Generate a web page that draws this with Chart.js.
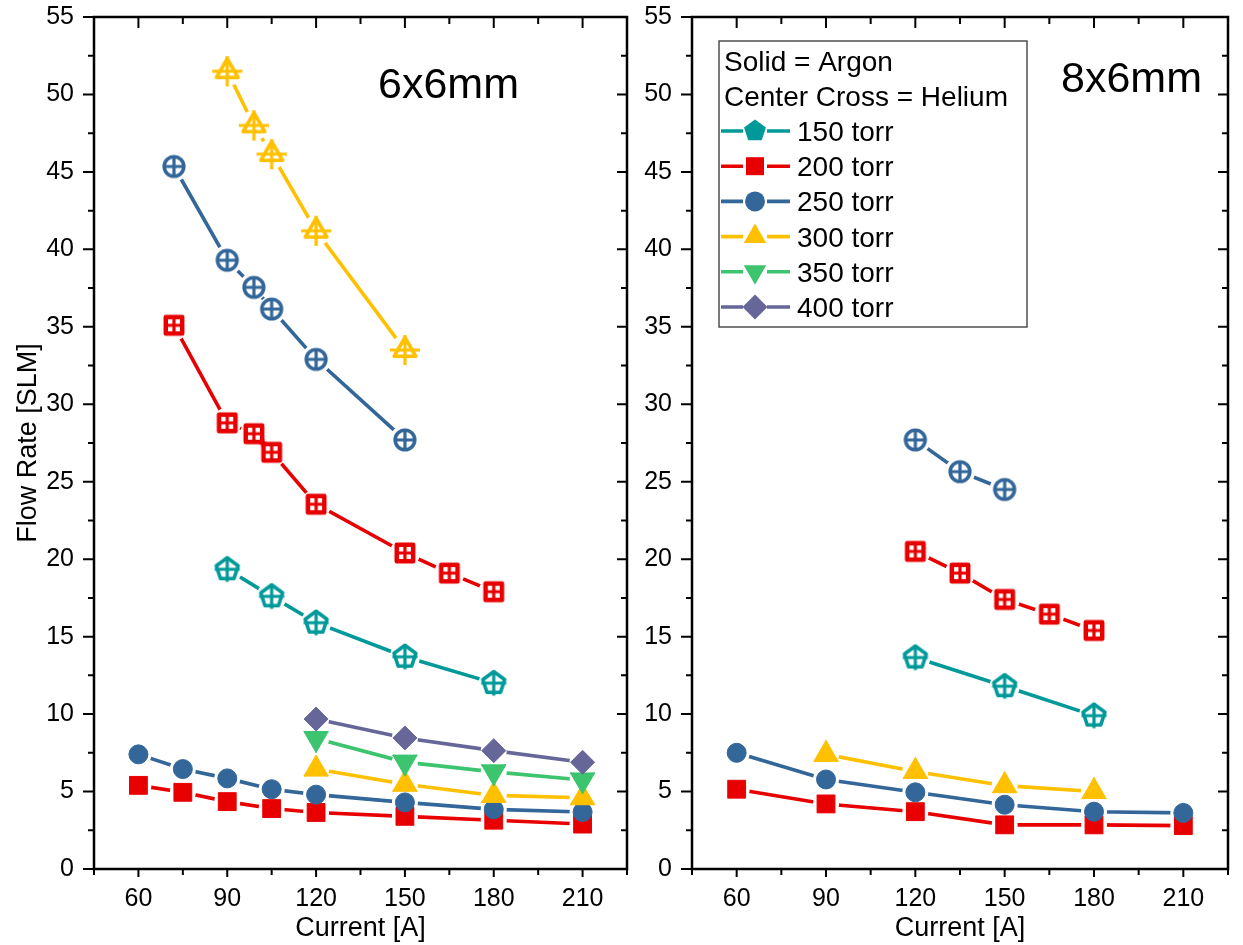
<!DOCTYPE html>
<html>
<head>
<meta charset="utf-8">
<title>Flow rate vs current</title>
<script src="https://cdn.jsdelivr.net/npm/chart.js@4.4.1/dist/chart.umd.min.js"></script>
<style>
  html, body { margin: 0; padding: 0; background: #fff; }
  #wrap { position: relative; width: 1243px; height: 945px; }
  .panel { position: absolute; top: 0; }
  #left { left: 0; }
  #right { left: 642px; }
</style>
</head>
<body>
<div id="wrap">
  <div class="panel" id="left"><canvas id="chart6" width="642" height="945"></canvas></div>
  <div class="panel" id="right"><canvas id="chart8" width="601" height="945"></canvas></div>
</div>
<script>
// ── Data ──────────────────────────────────────────────────────────────

const xTicks    = [60, 90, 120, 150, 180, 210];
const pressures = ['150 torr', '200 torr', '250 torr', '300 torr', '350 torr', '400 torr'];

// 6x6mm, argon (solid markers)
const cur6Ar      = [60, 75, 90, 105, 120, 150, 180, 210];
const ar6_200     = [5.4, 4.95, 4.35, 3.9, 3.65, 3.4, 3.15, 2.9];
const ar6_250     = [7.4, 6.45, 5.85, 5.15, 4.8, 4.3, 3.85, 3.68];
const cur6ArHigh  = [120, 150, 180, 210];
const ar6_300     = [6.45, 5.47, 4.75, 4.6];
const ar6_350     = [8.42, 6.9, 6.27, 5.75];
const ar6_400     = [9.68, 8.46, 7.64, 6.89];

// 6x6mm, helium (center cross markers)
const cur6He_150  = [90, 105, 120, 150, 180];
const he6_150     = [19.35, 17.6, 15.9, 13.7, 12.0];
const cur6He_200  = [72, 90, 99, 105, 120, 150, 165, 180];
const he6_200     = [35.1, 28.8, 28.1, 26.9, 23.55, 20.4, 19.1, 17.9];
const cur6He_250  = [72, 90, 99, 105, 120, 150];
const he6_250     = [45.35, 39.3, 37.55, 36.15, 32.9, 27.7];
const cur6He_300  = [90, 99, 105, 120, 150];
const he6_300     = [51.5, 48.0, 46.15, 41.2, 33.5];

// 8x6mm, argon
const cur8Ar      = [60, 90, 120, 150, 180, 210];
const ar8_200     = [5.15, 4.2, 3.7, 2.85, 2.85, 2.8];
const ar8_250     = [7.5, 5.78, 4.95, 4.15, 3.7, 3.62];
const cur8Ar_300  = [90, 120, 150, 180];
const ar8_300     = [7.4, 6.3, 5.38, 5.0];

// 8x6mm, helium
const cur8He_150  = [120, 150, 180];
const he8_150     = [13.65, 11.8, 9.9];
const cur8He_200  = [120, 135, 150, 165, 180];
const he8_200     = [20.5, 19.1, 17.4, 16.45, 15.4];
const cur8He_250  = [120, 135, 150];
const he8_250     = [27.7, 25.65, 24.5];

// ── Styles ────────────────────────────────────────────────────────────

const colors = ['#009999', '#e80000', '#336699', '#ffc000', '#3cc46f', '#666699'];
const shapes = ['pentagon', 'square', 'circle', 'triangle', 'triangleDown', 'diamond'];
const FONT = "'Liberation Sans', Arial, sans-serif";

Chart.defaults.font.family = FONT;
Chart.defaults.color = '#000';

function shapePath(g, shape, x, y, r) {
    g.beginPath();
    if (shape === 'circle') {
        g.arc(x, y, r, 0, Math.PI * 2);
    } else if (shape === 'square') {
        g.rect(x - r, y - r, 2 * r, 2 * r);
    } else if (shape === 'triangle' || shape === 'triangleDown') {
        const s = shape === 'triangle' ? 1 : -1;
        g.moveTo(x, y - s * r);
        g.lineTo(x + r * 0.866, y + s * r / 2);
        g.lineTo(x - r * 0.866, y + s * r / 2);
    } else if (shape === 'diamond') {
        g.moveTo(x, y - r); g.lineTo(x + r, y); g.lineTo(x, y + r); g.lineTo(x - r, y);
    } else if (shape === 'pentagon') {
        for (let k = 0; k < 5; k++) {
            const a = (-90 + 72 * k) * Math.PI / 180;
            g[k ? 'lineTo' : 'moveTo'](x + r * Math.cos(a), y + r * Math.sin(a));
        }
    }
    g.closePath();
}

// hollow marker with a center cross, used for helium
function heliumMarker(shape, color) {
    const c = document.createElement('canvas');
    c.width = c.height = 36;
    const g = c.getContext('2d');
    const m = 18;
    const r   = { circle: 9.8, square: 8.2, triangle: 12.5, pentagon: 11.5 }[shape];
    const arm = { circle: 9.8, square: 8.2, triangle: 15, pentagon: 12.5 }[shape];
    g.strokeStyle = color;
    g.lineJoin = 'round';
    g.lineWidth = shape === 'square' ? 4.5 : 3.6;
    shapePath(g, shape, m, m, r);
    g.stroke();
    g.lineWidth = 3.2;
    g.beginPath();
    g.moveTo(m - arm, m); g.lineTo(m + arm, m);
    g.moveTo(m, m - arm); g.lineTo(m, m + arm);
    g.stroke();
    return c;
}

const argonPoint = {
    circle:       { pointStyle: 'circle',   pointRadius: 9.5 },
    square:       { pointStyle: 'rect',     pointRadius: 12.6 },
    triangle:     { pointStyle: 'triangle', pointRadius: 14 },
    triangleDown: { pointStyle: 'triangle', pointRadius: 14, pointRotation: 180 },
    diamond:      { pointStyle: 'rectRot',  pointRadius: 12 },
};

function series(xs, ys, p, helium) {
    const color = colors[p];
    const marker = helium
        ? { pointStyle: heliumMarker(shapes[p], color), pointRadius: 12 }
        : argonPoint[shapes[p]];
    return Object.assign({
        label: pressures[p] + (helium ? ' He' : ' Ar'),
        data: xs.map((x, i) => ({ x, y: ys[i] })),
        showLine: true,
        borderColor: color,
        backgroundColor: color,
        borderWidth: 3.6,
        pointBorderColor: color,
        pointBorderWidth: helium ? 0 : 1,
        gap: helium ? 15 : 13,
    }, marker);
}

// ── Plugins ───────────────────────────────────────────────────────────

// leave a small gap between each line and its markers
const lineGaps = {
    id: 'lineGaps',
    beforeDatasetDraw(chart, args) {
        const ds = chart.data.datasets[args.index];
        const ctx = chart.ctx;
        ctx.save();
        ctx.beginPath();
        ctx.rect(0, 0, chart.width, chart.height);
        args.meta.data.forEach(p => {
            ctx.moveTo(p.x + ds.gap, p.y);
            ctx.arc(p.x, p.y, ds.gap, 0, Math.PI * 2);
        });
        ctx.clip('evenodd');
    },
    afterDatasetDraw(chart, args) {
        chart.ctx.restore();
        args.meta.data.forEach(p => p.draw(chart.ctx, chart.chartArea));
    },
};

// box frame with outward ticks left/bottom and inward ticks right/top
const frameTicks = {
    id: 'frameTicks',
    beforeDatasetsDraw(chart) {
        const { ctx, chartArea: a, scales: { x, y } } = chart;
        ctx.save();
        ctx.strokeStyle = '#000';
        ctx.lineWidth = 2;
        ctx.beginPath();
        for (let v = 0; v <= 55; v += 2.5) {
            const py = y.getPixelForValue(v);
            const major = v % 5 === 0;
            ctx.moveTo(a.left - (major ? 11 : 6), py); ctx.lineTo(a.left, py);
            ctx.moveTo(a.right, py); ctx.lineTo(a.right - (major ? 10 : 6), py);
        }
        for (let v = 45; v <= 225; v += 15) {
            const px = x.getPixelForValue(v);
            const major = (v - 60) % 30 === 0;
            ctx.moveTo(px, a.bottom); ctx.lineTo(px, a.bottom + (major ? 8 : 6));
            ctx.moveTo(px, a.top); ctx.lineTo(px, a.top + (major ? 11 : 7));
        }
        ctx.stroke();
        ctx.lineWidth = 2.5;
        ctx.strokeRect(a.left, a.top, a.right - a.left, a.bottom - a.top);
        ctx.restore();
    },
    afterDraw(chart, args, opts) {
        const { ctx, chartArea: a } = chart;
        ctx.save();
        ctx.font = '43px ' + FONT;
        ctx.fillStyle = '#000';
        ctx.textBaseline = 'alphabetic';
        ctx.fillText(opts.text, a.left + opts.dx, a.top + opts.dy);
        ctx.restore();
    },
};

// legend box drawn inside the 8x6mm panel
const boxLegend = {
    id: 'boxLegend',
    afterDraw(chart) {
        const { ctx, chartArea: a } = chart;
        const bx = a.left + 27, by = a.top + 24;
        ctx.save();
        ctx.fillStyle = '#fff';
        ctx.fillRect(bx, by, 308, 286);
        ctx.strokeStyle = '#444';
        ctx.lineWidth = 1.4;
        ctx.strokeRect(bx, by, 308, 286);
        ctx.fillStyle = '#000';
        ctx.font = '28px ' + FONT;
        ctx.textBaseline = 'alphabetic';
        ctx.fillText('Solid = Argon', bx + 5, by + 30);
        ctx.fillText('Center Cross = Helium', bx + 5, by + 65);
        const radius = { pentagon: 11.5, square: 9, circle: 10, triangle: 13, triangleDown: 13, diamond: 12.5 };
        pressures.forEach((label, i) => {
            const base = by + 100 + i * 35.2;
            const cy = base - 10;
            ctx.strokeStyle = colors[i];
            ctx.lineWidth = 3.6;
            ctx.beginPath();
            ctx.moveTo(bx + 2, cy);  ctx.lineTo(bx + 24, cy);
            ctx.moveTo(bx + 48, cy); ctx.lineTo(bx + 71, cy);
            ctx.stroke();
            ctx.fillStyle = colors[i];
            shapePath(ctx, shapes[i], bx + 36, cy, radius[shapes[i]]);
            ctx.fill();
            ctx.fillStyle = '#000';
            ctx.fillText(label, bx + 78, base);
        });
        ctx.restore();
    },
};

// ── Charts ────────────────────────────────────────────────────────────

function makeOptions(yWidth, showTitle, padRight, panel) {
    const tickFont = { size: 25 };
    return {
        responsive: false,
        animation: false,
        events: [],
        layout: { padding: { top: 17, right: padRight, bottom: 0, left: 0 } },
        plugins: { legend: { display: false }, tooltip: { enabled: false }, frameTicks: panel },
        scales: {
            x: {
                type: 'linear', min: 45, max: 225,
                afterBuildTicks: s => { s.ticks = xTicks.map(v => ({ value: v })); },
                afterFit: s => { s.height = 76; s.paddingLeft = 0; s.paddingRight = 0; },
                grid: { display: false, drawTicks: false }, border: { display: false },
                ticks: { font: tickFont, color: '#000', padding: 15, maxRotation: 0 },
                title: { display: true, text: 'Current [A]', font: { size: 27 }, color: '#000', padding: { top: 0, bottom: 0 } },
            },
            y: {
                min: 0, max: 55,
                afterFit: s => { s.width = yWidth; s.paddingTop = 0; s.paddingBottom = 0; },
                grid: { display: false, drawTicks: false }, border: { display: false },
                ticks: { stepSize: 5, font: tickFont, color: '#000', padding: 20 },
                title: { display: showTitle, text: 'Flow Rate [SLM]', font: { size: 27 }, color: '#000', padding: { top: 12, bottom: 0 } },
            },
        },
    };
}

function withOrder(list) {
    return list.map((d, i) => Object.assign(d, { order: -i }));
}

const datasets6 = withOrder([
    series(cur6He_150, he6_150, 0, true),
    series(cur6He_200, he6_200, 1, true),
    series(cur6He_250, he6_250, 2, true),
    series(cur6He_300, he6_300, 3, true),
    series(cur6Ar,     ar6_200, 1, false),
    series(cur6Ar,     ar6_250, 2, false),
    series(cur6ArHigh, ar6_300, 3, false),
    series(cur6ArHigh, ar6_350, 4, false),
    series(cur6ArHigh, ar6_400, 5, false),
]);

const datasets8 = withOrder([
    series(cur8He_150, he8_150, 0, true),
    series(cur8He_200, he8_200, 1, true),
    series(cur8He_250, he8_250, 2, true),
    series(cur8Ar,     ar8_200, 1, false),
    series(cur8Ar,     ar8_250, 2, false),
    series(cur8Ar_300, ar8_300, 3, false),
]);

new Chart(document.getElementById('chart6'), {
    type: 'scatter',
    data: { datasets: datasets6 },
    options: makeOptions(94, true, 6, { text: '6x6mm', dx: 284, dy: 81 }),
    plugins: [frameTicks, lineGaps],
});

new Chart(document.getElementById('chart8'), {
    type: 'scatter',
    data: { datasets: datasets8 },
    options: makeOptions(50, false, 8, { text: '8x6mm', dx: 369, dy: 75 }),
    plugins: [frameTicks, lineGaps, boxLegend],
});
</script>
</body>
</html>
